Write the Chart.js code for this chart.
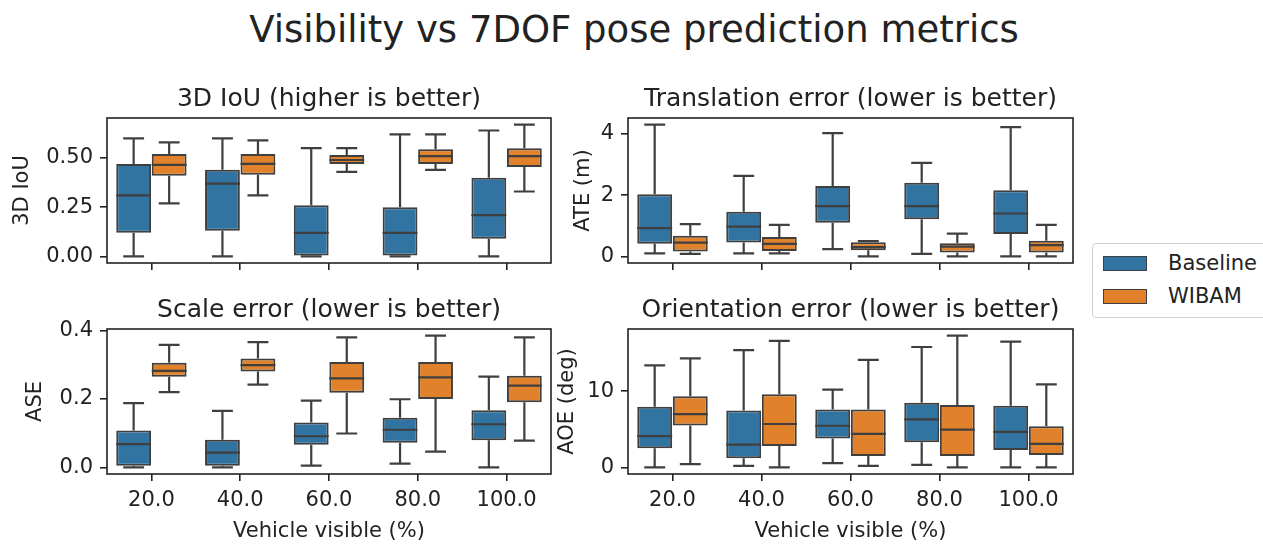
<!DOCTYPE html>
<html>
<head>
<meta charset="utf-8">
<script src="https://cdn.jsdelivr.net/npm/chart.js@4.4.1/dist/chart.umd.min.js"></script>
<style>
  body { margin: 0; background: #fff; width: 1263px; height: 544px; overflow: hidden; position: relative; font-family: "DejaVu Sans", sans-serif; color: #222; }
  .panel { position: absolute; }
  #suptitle { position: absolute; left: 0; top: 8px; width: 1268px; text-align: center; font-size: 37px; line-height: 44px; }
  #legend { position: absolute; left: 1092px; top: 243px; width: 190px; height: 73px; border: 1px solid #d0d0d0; border-radius: 4px; background: rgba(255,255,255,0.8); }
  .item { position: absolute; left: 10px; height: 16px; font-size: 21px; }
  .patch { position: absolute; left: 0; top: 0; width: 42px; height: 13px; border: 1.6px solid #3f3f3f; }
  .label { position: absolute; left: 65px; top: -5px; line-height: 25px; white-space: nowrap; }
</style>
</head>
<body>
<div id="suptitle">Visibility vs 7DOF pose prediction metrics</div>

<div class="panel" style="left:0;top:84px;width:560px;height:187px"><canvas id="iouChart"></canvas></div>
<div class="panel" style="left:550px;top:84px;width:530px;height:187px"><canvas id="ateChart"></canvas></div>
<div class="panel" style="left:0;top:295px;width:560px;height:249px"><canvas id="aseChart"></canvas></div>
<div class="panel" style="left:550px;top:295px;width:530px;height:249px"><canvas id="aoeChart"></canvas></div>

<div id="legend">
  <div class="item" style="top:12px"><div class="patch" style="background:#3274a1"></div><div class="label">Baseline</div></div>
  <div class="item" style="top:45px"><div class="patch" style="background:#e1812c"></div><div class="label">WIBAM</div></div>
</div>

<script>
const categories = ["20.0", "40.0", "60.0", "80.0", "100.0"];
const seriesNames = ["Baseline", "WIBAM"];

// one box per category: [lower whisker, Q1, median, Q3, upper whisker]
const iouBaseline = [
  [0, 0.12, 0.31, 0.47, 0.60],
  [0, 0.13, 0.37, 0.44, 0.60],
  [0, 0, 0.12, 0.26, 0.55],
  [0, 0, 0.12, 0.25, 0.62],
  [0, 0.09, 0.21, 0.40, 0.64],
];
const iouWibam = [
  [0.27, 0.41, 0.465, 0.52, 0.58],
  [0.31, 0.415, 0.47, 0.52, 0.59],
  [0.43, 0.47, 0.49, 0.515, 0.55],
  [0.44, 0.47, 0.51, 0.545, 0.62],
  [0.33, 0.455, 0.51, 0.55, 0.67],
];
const ateBaseline = [
  [0.1, 0.41, 0.92, 2.03, 4.3],
  [0.1, 0.45, 0.97, 1.46, 2.63],
  [0.24, 1.1, 1.64, 2.3, 4.02],
  [0.08, 1.21, 1.64, 2.4, 3.05],
  [0, 0.73, 1.4, 2.16, 4.22],
];
const ateWibam = [
  [0.08, 0.16, 0.45, 0.67, 1.05],
  [0.1, 0.18, 0.41, 0.63, 1.03],
  [0, 0.2, 0.3, 0.46, 0.5],
  [0, 0.13, 0.32, 0.43, 0.74],
  [0, 0.13, 0.37, 0.51, 1.03],
];
const aseBaseline = [
  [0, 0.005, 0.068, 0.108, 0.188],
  [0, 0.005, 0.043, 0.081, 0.165],
  [0.005, 0.066, 0.091, 0.131, 0.195],
  [0.011, 0.072, 0.11, 0.145, 0.199],
  [0, 0.079, 0.126, 0.167, 0.265],
];
const aseWibam = [
  [0.22, 0.265, 0.282, 0.306, 0.358],
  [0.242, 0.28, 0.299, 0.318, 0.366],
  [0.099, 0.218, 0.26, 0.308, 0.38],
  [0.046, 0.2, 0.263, 0.308, 0.385],
  [0.078, 0.19, 0.239, 0.268, 0.38],
];
const aoeBaseline = [
  [0, 2.5, 4.1, 7.97, 13.4],
  [0.2, 1.2, 3.0, 7.46, 15.4],
  [0.56, 3.8, 5.47, 7.6, 10.2],
  [0.34, 3.3, 6.3, 8.5, 15.8],
  [0, 2.3, 4.66, 8.1, 16.5],
];
const aoeWibam = [
  [0.43, 5.5, 6.98, 9.35, 14.3],
  [0, 2.8, 5.7, 9.6, 16.6],
  [0.2, 1.5, 4.4, 7.6, 14.1],
  [0, 1.5, 4.96, 8.2, 17.3],
  [0, 1.64, 3.1, 5.4, 10.9],
];

const iouTicks = [0, 0.25, 0.5];
const ateTicks = [0, 2, 4];
const aseTicks = [0, 0.2, 0.4];
const aoeTicks = [0, 10];

const colors = ["#3274a1", "#e1812c"];
const lineColor = "#3f3f3f";
const textColor = "#222";

Chart.defaults.font.family = "'DejaVu Sans', sans-serif";
Chart.defaults.color = textColor;

// whiskers, caps and median lines on top of the floating bars
const boxPlugin = {
  id: "boxes",
  afterDatasetsDraw(chart) {
    const ctx = chart.ctx;
    const y = chart.scales.y;
    ctx.save();
    ctx.strokeStyle = lineColor;
    ctx.lineWidth = 2.2;
    chart.data.datasets.forEach((ds, i) => {
      const meta = chart.getDatasetMeta(i);
      meta.data.forEach((bar, j) => {
        const s = ds.stats[j];
        const x = bar.x;
        const w = bar.width;
        const cap = w * 0.3;
        ctx.beginPath();
        ctx.moveTo(x, y.getPixelForValue(s[3]));
        ctx.lineTo(x, y.getPixelForValue(s[4]));
        ctx.moveTo(x, y.getPixelForValue(s[1]));
        ctx.lineTo(x, y.getPixelForValue(s[0]));
        ctx.moveTo(x - cap, y.getPixelForValue(s[4]));
        ctx.lineTo(x + cap, y.getPixelForValue(s[4]));
        ctx.moveTo(x - cap, y.getPixelForValue(s[0]));
        ctx.lineTo(x + cap, y.getPixelForValue(s[0]));
        ctx.moveTo(x - w / 2, y.getPixelForValue(s[2]));
        ctx.lineTo(x + w / 2, y.getPixelForValue(s[2]));
        ctx.stroke();
      });
    });
    ctx.restore();
  },
};

// full axes frame
const framePlugin = {
  id: "frame",
  afterDraw(chart) {
    const a = chart.chartArea;
    const ctx = chart.ctx;
    ctx.save();
    ctx.strokeStyle = textColor;
    ctx.lineWidth = 1.6;
    ctx.strokeRect(a.left, a.top, a.right - a.left, a.bottom - a.top);
    ctx.restore();
  },
};

function makePanel(id, title, baseStats, wibamStats, tickVals, decimals, yLabel, opt) {
  const all = baseStats.concat(wibamStats).flat();
  const lo = Math.min(...all);
  const hi = Math.max(...all);
  const margin = (hi - lo) * 0.05;

  const tickGrid = {
    display: true,
    drawOnChartArea: false,
    drawTicks: true,
    tickLength: 7,
    color: textColor,
    lineWidth: 1.6,
    offset: false,
  };

  return new Chart(document.getElementById(id), {
    type: "bar",
    data: {
      labels: categories,
      datasets: [baseStats, wibamStats].map((stats, i) => ({
        label: seriesNames[i],
        stats: stats,
        data: stats.map((s) => [s[1], s[3]]),
        backgroundColor: colors[i],
        borderColor: lineColor,
        borderWidth: 2,
        borderSkipped: false,
        categoryPercentage: 0.8,
        barPercentage: 0.98,
      })),
    },
    options: {
      responsive: true,
      maintainAspectRatio: false,
      animation: false,
      devicePixelRatio: 1,
      layout: { padding: { left: 0, right: opt.right, top: 0, bottom: 0 } },
      plugins: {
        legend: { display: false },
        tooltip: { enabled: false },
        title: {
          display: true,
          fullSize: false,
          text: title,
          color: textColor,
          font: { size: 25, weight: "normal" },
          padding: { top: 0, bottom: 4 },
        },
      },
      scales: {
        x: {
          grid: tickGrid,
          border: { display: false },
          ticks: { display: opt.showX, padding: 7, font: { size: 21 }, color: textColor },
          title: {
            display: opt.showX,
            text: "Vehicle visible (%)",
            font: { size: 21 },
            color: textColor,
            padding: { top: 0, bottom: 0 },
          },
          afterFit: (s) => {
            s.height = opt.xHeight;
            s.paddingLeft = 0;
            s.paddingRight = 0;
          },
        },
        y: {
          min: lo - margin,
          max: hi + margin,
          grid: tickGrid,
          border: { display: false },
          afterBuildTicks: (s) => {
            s.ticks = tickVals.map((v) => ({ value: v }));
          },
          ticks: {
            padding: 7,
            font: { size: 21 },
            color: textColor,
            callback: (v) => Number(v).toFixed(decimals),
          },
          title: {
            display: true,
            text: yLabel,
            font: { size: 21 },
            color: textColor,
            padding: { top: opt.titlePad, bottom: 0 },
          },
          afterFit: (s) => {
            s.width = opt.yWidth;
            s.paddingTop = 0;
            s.paddingBottom = 0;
          },
        },
      },
    },
    plugins: [boxPlugin, framePlugin],
  });
}

makePanel("iouChart", "3D IoU (higher is better)", iouBaseline, iouWibam, iouTicks, 2, "3D IoU",
  { right: 9, yWidth: 107, xHeight: 8, titlePad: 10, showX: false });
makePanel("ateChart", "Translation error (lower is better)", ateBaseline, ateWibam, ateTicks, 0, "ATE (m)",
  { right: 7, yWidth: 78, xHeight: 8, titlePad: 21, showX: false });
makePanel("aseChart", "Scale error (lower is better)", aseBaseline, aseWibam, aseTicks, 1, "ASE",
  { right: 9, yWidth: 107, xHeight: 70, titlePad: 23, showX: true });
makePanel("aoeChart", "Orientation error (lower is better)", aoeBaseline, aoeWibam, aoeTicks, 0, "AOE (deg)",
  { right: 7, yWidth: 78, xHeight: 70, titlePad: 5, showX: true });
</script>
</body>
</html>
